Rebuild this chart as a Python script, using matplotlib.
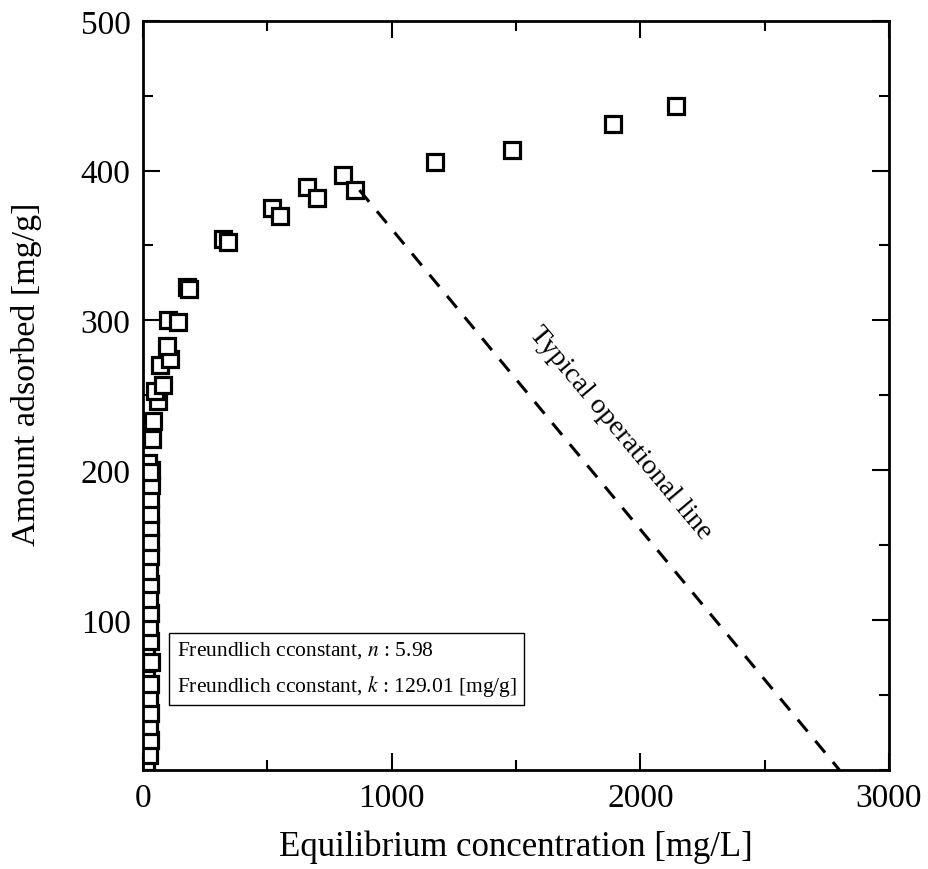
import numpy as np
import matplotlib.pyplot as plt
from matplotlib.ticker import MultipleLocator

plt.rcParams['font.family'] = ['Liberation Serif', 'DejaVu Serif']
plt.rcParams['mathtext.fontset'] = 'stix'

# datos
conc_bajo = [12, 10, 13, 11, 12, 10, 13, 12, 11, 12, 13, 11, 12, 13, 12, 11, 13, 12, 14, 13, 15,
             24, 26, 25, 27, 24, 26, 30, 26, 25, 27, 24, 26, 25, 27, 26, 28, 27, 29, 30, 32]
ads_bajo = [5, 14, 24, 33, 43, 52, 62, 71, 81, 90, 100, 109, 119, 128, 138, 147, 157, 166, 176, 185, 195,
            10, 20, 29, 38, 48, 57, 72, 86, 95, 105, 114, 124, 133, 143, 152, 162, 171, 181, 190, 200]

conc_alto = [20, 28, 36, 40, 60, 48, 80, 68, 108, 96, 100, 140, 175, 185,
             322, 342, 518, 550, 658, 698, 803, 851, 1173, 1482, 1888, 2145]
ads_alto = [205, 199, 221, 233, 246, 253, 257, 270, 274, 283, 300, 299, 322, 321,
            354, 352, 375, 370, 389, 382, 397, 387, 406, 414, 431, 443]

# linea de operacion
linea_x = [870, 2800]
linea_y = [387, 0]

fig = plt.figure(figsize=(9.29, 8.7), dpi=100)
ax = fig.add_axes([0.154, 0.114, 0.803, 0.861])

mk = dict(marker='s', linestyle='none', markersize=11.5, markerfacecolor='white',
          markeredgecolor='black', markeredgewidth=2.3)
ax.plot(conc_bajo, ads_bajo, **mk)
ax.plot(conc_alto, ads_alto, **mk)
ax.plot(linea_x, linea_y, '--', color='black', linewidth=2.2, dashes=(5, 4))

ax.text(1920, 225, "Typical operational line", rotation=-50, fontsize=20.5,
        ha='center', va='center', rotation_mode='anchor')

ax.text(0.045, 0.135,
        "Freundlich cconstant, $n$ : 5.98\nFreundlich cconstant, $k$ : 129.01 [mg/g]",
        transform=ax.transAxes, fontsize=15.5, va='center', ha='left', linespacing=1.7,
        bbox=dict(boxstyle='square,pad=0.35', facecolor='white', edgecolor='black', linewidth=1))

ax.set_xlim(0, 3000)
ax.set_ylim(0, 500)
ax.xaxis.set_major_locator(MultipleLocator(1000))
ax.xaxis.set_minor_locator(MultipleLocator(500))
ax.yaxis.set_major_locator(MultipleLocator(100))
ax.yaxis.set_minor_locator(MultipleLocator(50))
ax.set_yticks([100, 200, 300, 400, 500])
ax.tick_params(which='both', direction='in', top=True, right=True, width=1.5)
ax.tick_params(which='major', length=12, labelsize=24, pad=9)
ax.tick_params(which='minor', length=7)
for s in ax.spines.values():
    s.set_linewidth(2)

ax.set_xlabel("Equilibrium concentration [mg/L]", fontsize=25, labelpad=12)
ax.set_ylabel("Amount adsorbed [mg/g]", fontsize=24.5)
ax.yaxis.set_label_coords(-0.135, 0.53)

plt.savefig("out.png", dpi=100)
